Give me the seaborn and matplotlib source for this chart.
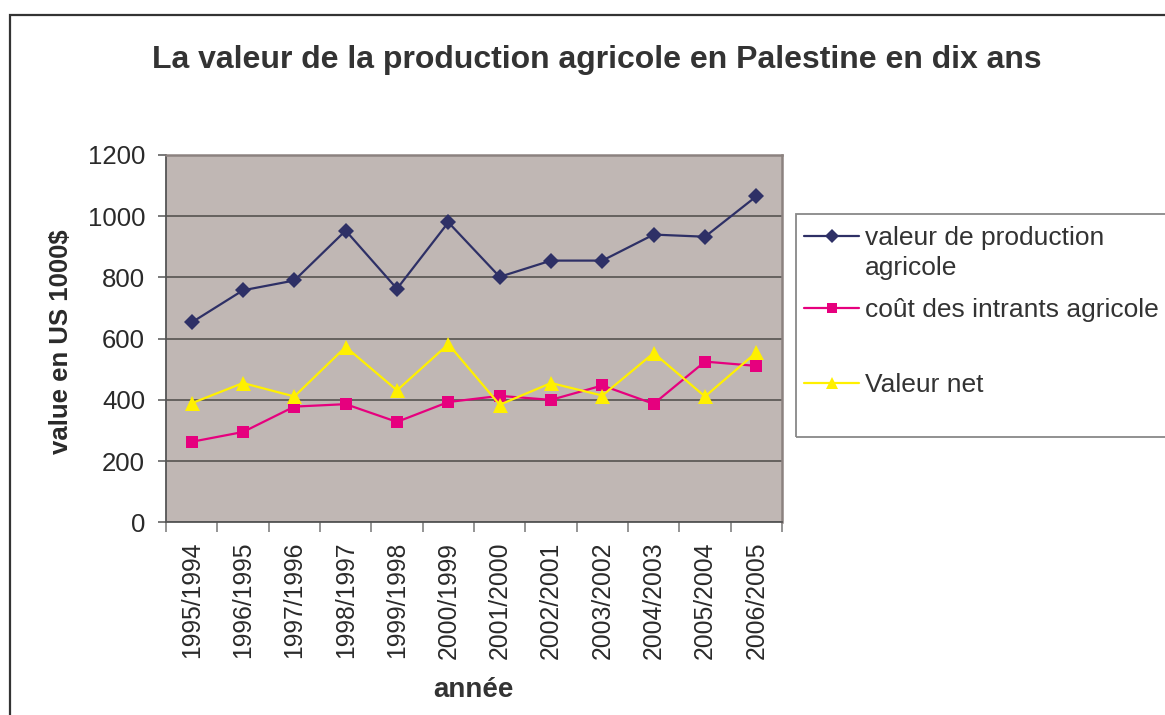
import matplotlib
matplotlib.use("Agg")
import matplotlib.pyplot as plt
from matplotlib.lines import Line2D
from matplotlib.patches import Rectangle
import seaborn as sns
import pandas as pd
import numpy as np

# Campaign years
annees = ["1995/1994", "1996/1995", "1997/1996", "1998/1997", "1999/1998", "2000/1999",
          "2001/2000", "2002/2001", "2003/2002", "2004/2003", "2005/2004", "2006/2005"]

# Values in thousands of US$
valeur_production = [653, 758, 790, 953, 763, 980, 802, 855, 855, 940, 933, 1065]
cout_intrants = [263, 295, 378, 386, 328, 393, 413, 400, 447, 387, 525, 511]
valeur_net = [389, 455, 411, 573, 431, 582, 384, 455, 414, 553, 411, 555]

sns.set_theme(style="white")
plt.rcParams["font.family"] = ["Liberation Sans", "DejaVu Sans"]

W, H = 1165, 715
fig = plt.figure(figsize=(W / 100, H / 100), dpi=100)

C_PROD, C_COUT, C_NET = "#2E3066", "#E6007E", "#FFF000"
TXT = "#2a2a2a"

# outer chart frame (left and top edges visible)
fig.patches.append(Rectangle((10 / W, -0.05), 1.2, 1 - 15 / H + 0.05, transform=fig.transFigure,
                             fill=False, edgecolor="#333333", linewidth=1.6, zorder=0))

left, right, top, bottom = 166, 782, 155, 522.3
ax = fig.add_axes([left / W, 1 - bottom / H, (right - left) / W, (bottom - top) / H])
ax.set_facecolor("#C0B7B4")

df = pd.DataFrame({"annee": annees, "prod": valeur_production,
                   "cout": cout_intrants, "net": valeur_net})

sns.lineplot(data=df, x="annee", y="prod", ax=ax, color=C_PROD, marker="D",
             markersize=8.4, markeredgewidth=0, linewidth=1.6, sort=False, zorder=3)
sns.lineplot(data=df, x="annee", y="cout", ax=ax, color=C_COUT, marker="s",
             markersize=8.6, markeredgewidth=0, linewidth=1.6, sort=False, zorder=4)
sns.lineplot(data=df, x="annee", y="net", ax=ax, color=C_NET, marker="^",
             markersize=10.8, markeredgewidth=0, linewidth=1.6, sort=False, zorder=5)

ax.set_xlim(-0.5, len(annees) - 0.5)
ax.set_ylim(0, 1200)
ax.set_yticks(np.arange(0, 1201, 200))
ax.yaxis.grid(True, color="#5E5A58", linewidth=1.3)
ax.set_axisbelow(True)

ax.set_xticks(range(len(annees)))
ax.set_xticklabels(annees, rotation=90)
ax.set_xticks(np.arange(-0.5, len(annees), 1), minor=True)
ax.tick_params(axis="x", which="major", length=0, pad=14, labelsize=17.8, labelcolor=TXT)
ax.tick_params(axis="x", which="minor", length=7, width=1.1, color="#777777", direction="out",
               bottom=True)
ax.tick_params(axis="y", length=6, width=1.1, color="#555555", direction="out", left=True,
               labelsize=18.5, labelcolor=TXT, pad=9)

for s in ["top", "right"]:
    ax.spines[s].set_color("#8C8280")
    ax.spines[s].set_linewidth(1.8)
for s in ["left", "bottom"]:
    ax.spines[s].set_color("#555555")
    ax.spines[s].set_linewidth(1.3)

ax.set_xlabel("année", fontsize=20, fontweight="bold", color="#333333")
ax.xaxis.set_label_coords((473 - left) / (right - left), -(690 - bottom) / (bottom - top))
ax.set_ylabel("value en US 1000$", fontsize=18.5, fontweight="bold", color=TXT)
ax.yaxis.set_label_coords(-(left - 61) / (right - left), (bottom - 342) / (bottom - top))
ax.xaxis.label.set_va("center")
ax.yaxis.label.set_va("center")

fig.text(597 / W, 1 - 60 / H, "La valeur de la production agricole en Palestine en dix ans",
         ha="center", va="center", fontsize=23, fontweight="bold", color="#333333")

# legend box
fig.patches.append(Rectangle((796 / W, 1 - 437 / H), 0.5, (437 - 214) / H, transform=fig.transFigure,
                             fill=False, edgecolor="#888888", linewidth=1.3, zorder=1))

legend_rows = [
    (Line2D([], [], color=C_PROD, marker="D", markersize=7, markeredgewidth=0, linewidth=1.6),
     "valeur de production", 238),
    (Line2D([], [], linestyle="none"), "agricole", 268),
    (Line2D([], [], color=C_COUT, marker="s", markersize=7.5, markeredgewidth=0, linewidth=1.6),
     "coût des intrants agricole", 310),
    (Line2D([], [], color=C_NET, marker="^", markersize=9, markeredgewidth=0, linewidth=1.6),
     "Valeur net", 385),
]
for handle, label, ypix in legend_rows:
    leg = fig.legend([handle], [label], loc="center left",
                     bbox_to_anchor=(804 / W, 1 - ypix / H), frameon=False, fontsize=19,
                     handlelength=2.1, handletextpad=0.22, borderpad=0, borderaxespad=0)
    for t in leg.get_texts():
        t.set_color("#333333")

fig.savefig("out.png", dpi=100)
